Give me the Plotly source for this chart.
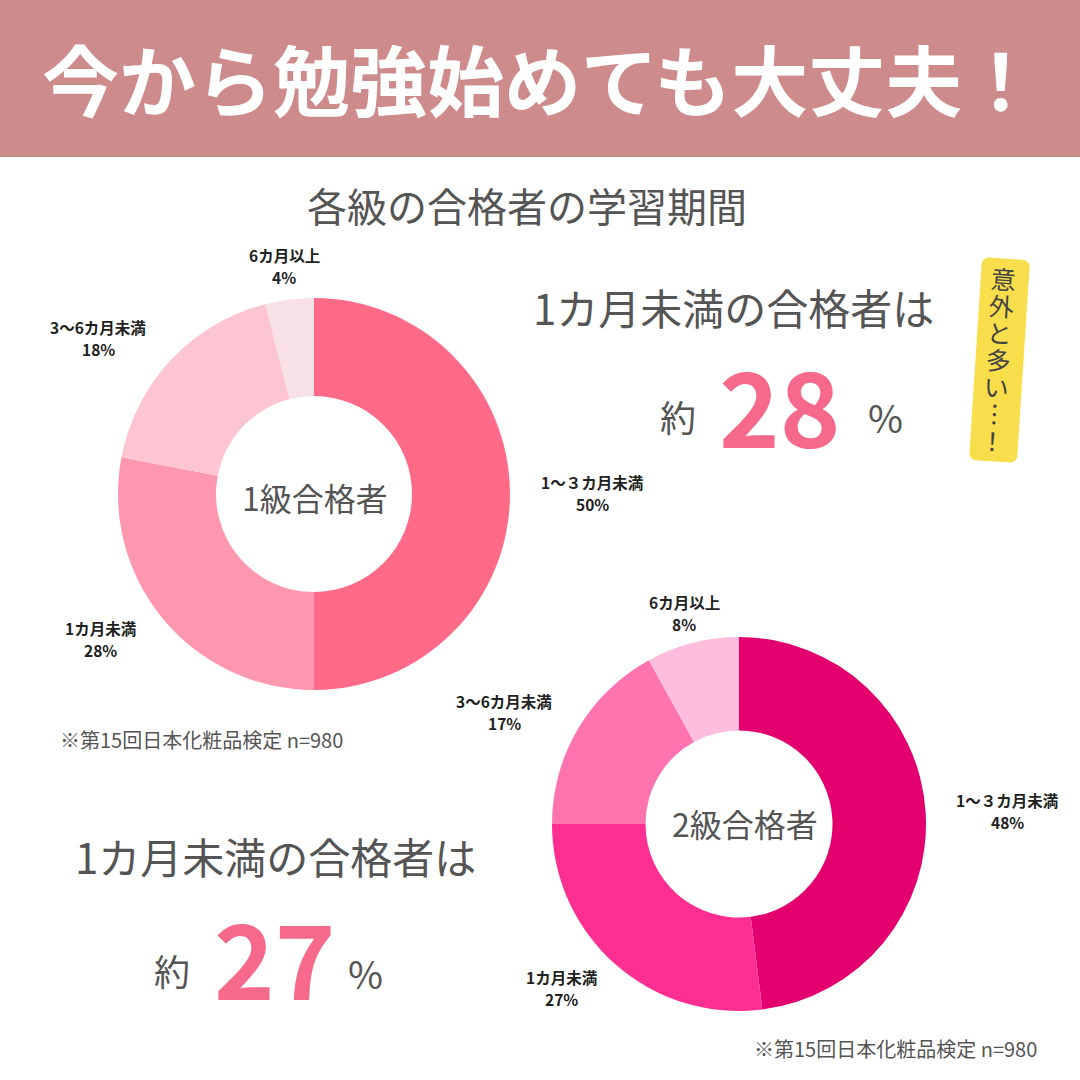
import numpy as np
import plotly.graph_objects as go

# ---------------- data ----------------
labels_1 = ["1～３カ月未満", "1カ月未満", "3～6カ月未満", "6カ月以上"]
values_1 = [50, 28, 18, 4]
labels_2 = ["1～３カ月未満", "1カ月未満", "3～6カ月未満", "6カ月以上"]
values_2 = [48, 27, 17, 8]
center_1 = "1級合格者"
center_2 = "2級合格者"
highlight_1 = 28
highlight_2 = 27
title_text = "今から勉強始めても大丈夫！"
subtitle_text = "各級の合格者の学習期間"
lead_text = "1カ月未満の合格者は"
note_text = "※第15回日本化粧品検定 n=980"
sticky_text = ["意", "外", "と", "多", "い", "︙", "！"]

# ---------------- styles ----------------
W = H = 1080
colors_1 = ["#FF6A89", "#FF97AF", "#FDC4D1", "#F8E1E6"]
colors_2 = ["#E3006E", "#FF2F92", "#FF74AF", "#FFBCDB"]
FONT = "Noto Sans CJK JP"
GRAY = "#555555"
PINK_NUM = "#F7698B"


def px(x):
    return x / W


def py(y):
    return 1 - y / H


fig = go.Figure()

# donut 1
fig.add_trace(go.Pie(
    labels=labels_1, values=values_1, hole=0.5, sort=False,
    direction="clockwise", rotation=0,
    marker=dict(colors=colors_1, line=dict(width=0)),
    textinfo="none", hoverinfo="label+percent", showlegend=False,
    domain=dict(x=[px(118), px(510)], y=[py(690), py(298)]),
))
# donut 2
fig.add_trace(go.Pie(
    labels=labels_2, values=values_2, hole=0.5, sort=False,
    direction="clockwise", rotation=0,
    marker=dict(colors=colors_2, line=dict(width=0)),
    textinfo="none", hoverinfo="label+percent", showlegend=False,
    domain=dict(x=[px(552), px(926)], y=[py(1011), py(637)]),
))

annotations = []


def add_text(x, y, text, size, color=GRAY, bold=False, angle=0, xanchor="center"):
    annotations.append(dict(
        x=px(x), y=py(y), xref="paper", yref="paper", text=text,
        showarrow=False, xanchor=xanchor, yanchor="middle", textangle=angle,
        font=dict(family=FONT, size=size, color=color,
                  weight="bold" if bold else "normal"),
    ))


# header
add_text(540, 78, title_text, 77, color="white", bold=True)
add_text(527, 205, subtitle_text, 40)

# slice labels (positions for each slice, in order)
label_pos_1 = [(592, 493), (100, 639), (98, 338), (284, 266)]
label_pos_2 = [(1007, 811), (561, 988), (504, 712), (684, 613)]
for labs, vals, poss in [(labels_1, values_1, label_pos_1), (labels_2, values_2, label_pos_2)]:
    tot = sum(vals)
    for lab, v, (x, y) in zip(labs, vals, poss):
        add_text(x, y - 11, lab, 15.5, color="#222222", bold=True)
        add_text(x, y + 11, f"{round(100 * v / tot)}%", 15.5, color="#222222", bold=True)

# centre labels
add_text(315, 497, center_1, 32)
add_text(745, 823, center_2, 32)

# footnotes
add_text(201, 739, note_text, 20)
add_text(895, 1048, note_text, 20)

# highlight block 1 (top right)
add_text(733, 306, lead_text, 42)
add_text(678, 416, "約", 36)
add_text(780, 403, str(highlight_1), 103, color=PINK_NUM, bold=True)
add_text(885, 416, "%", 38)

# highlight block 2 (bottom left)
add_text(275, 855, lead_text, 42)
add_text(172, 970, "約", 36)
add_text(275, 955, str(highlight_2), 103, color=PINK_NUM, bold=True)
add_text(365, 972, "%", 38)

# sticky note (rotated rounded rectangle)
cx, cy, sw, sh, deg = 999.5, 360, 48, 203, 3.7
ang = np.deg2rad(deg)
rad = 7
local = []
for (qx, qy, a0) in [(sw / 2 - rad, -sh / 2 + rad, -90), (sw / 2 - rad, sh / 2 - rad, 0),
                     (-sw / 2 + rad, sh / 2 - rad, 90), (-sw / 2 + rad, -sh / 2 + rad, 180)]:
    for t in np.linspace(a0, a0 + 90, 6):
        local.append((qx + rad * np.cos(np.deg2rad(t)), qy + rad * np.sin(np.deg2rad(t))))
pts = []
for dx, dy in local:
    xr = cx + dx * np.cos(ang) - dy * np.sin(ang)
    yr = cy + dx * np.sin(ang) + dy * np.cos(ang)
    pts.append((px(xr), py(yr)))
path = "M " + " L ".join(f"{a:.5f},{b:.5f}" for a, b in pts) + " Z"

step = 27
n = len(sticky_text)
for i, ch in enumerate(sticky_text):
    t = (i - (n - 1) / 2) * step
    add_text(cx - 1.5 - t * np.sin(ang), cy - 1 + t * np.cos(ang), ch, 25,
             color="#444444", angle=deg)

fig.update_layout(
    width=W, height=H,
    margin=dict(l=0, r=0, t=0, b=0),
    paper_bgcolor="white", plot_bgcolor="white",
    showlegend=False,
    annotations=annotations,
    shapes=[
        dict(type="rect", xref="paper", yref="paper", x0=0, x1=1,
             y0=py(157), y1=1, fillcolor="#CD8B8B", line=dict(width=0), layer="below"),
        dict(type="path", xref="paper", yref="paper", path=path,
             fillcolor="#F9DE4B", line=dict(width=0), layer="below"),
    ],
)

fig.write_html("out.html")
